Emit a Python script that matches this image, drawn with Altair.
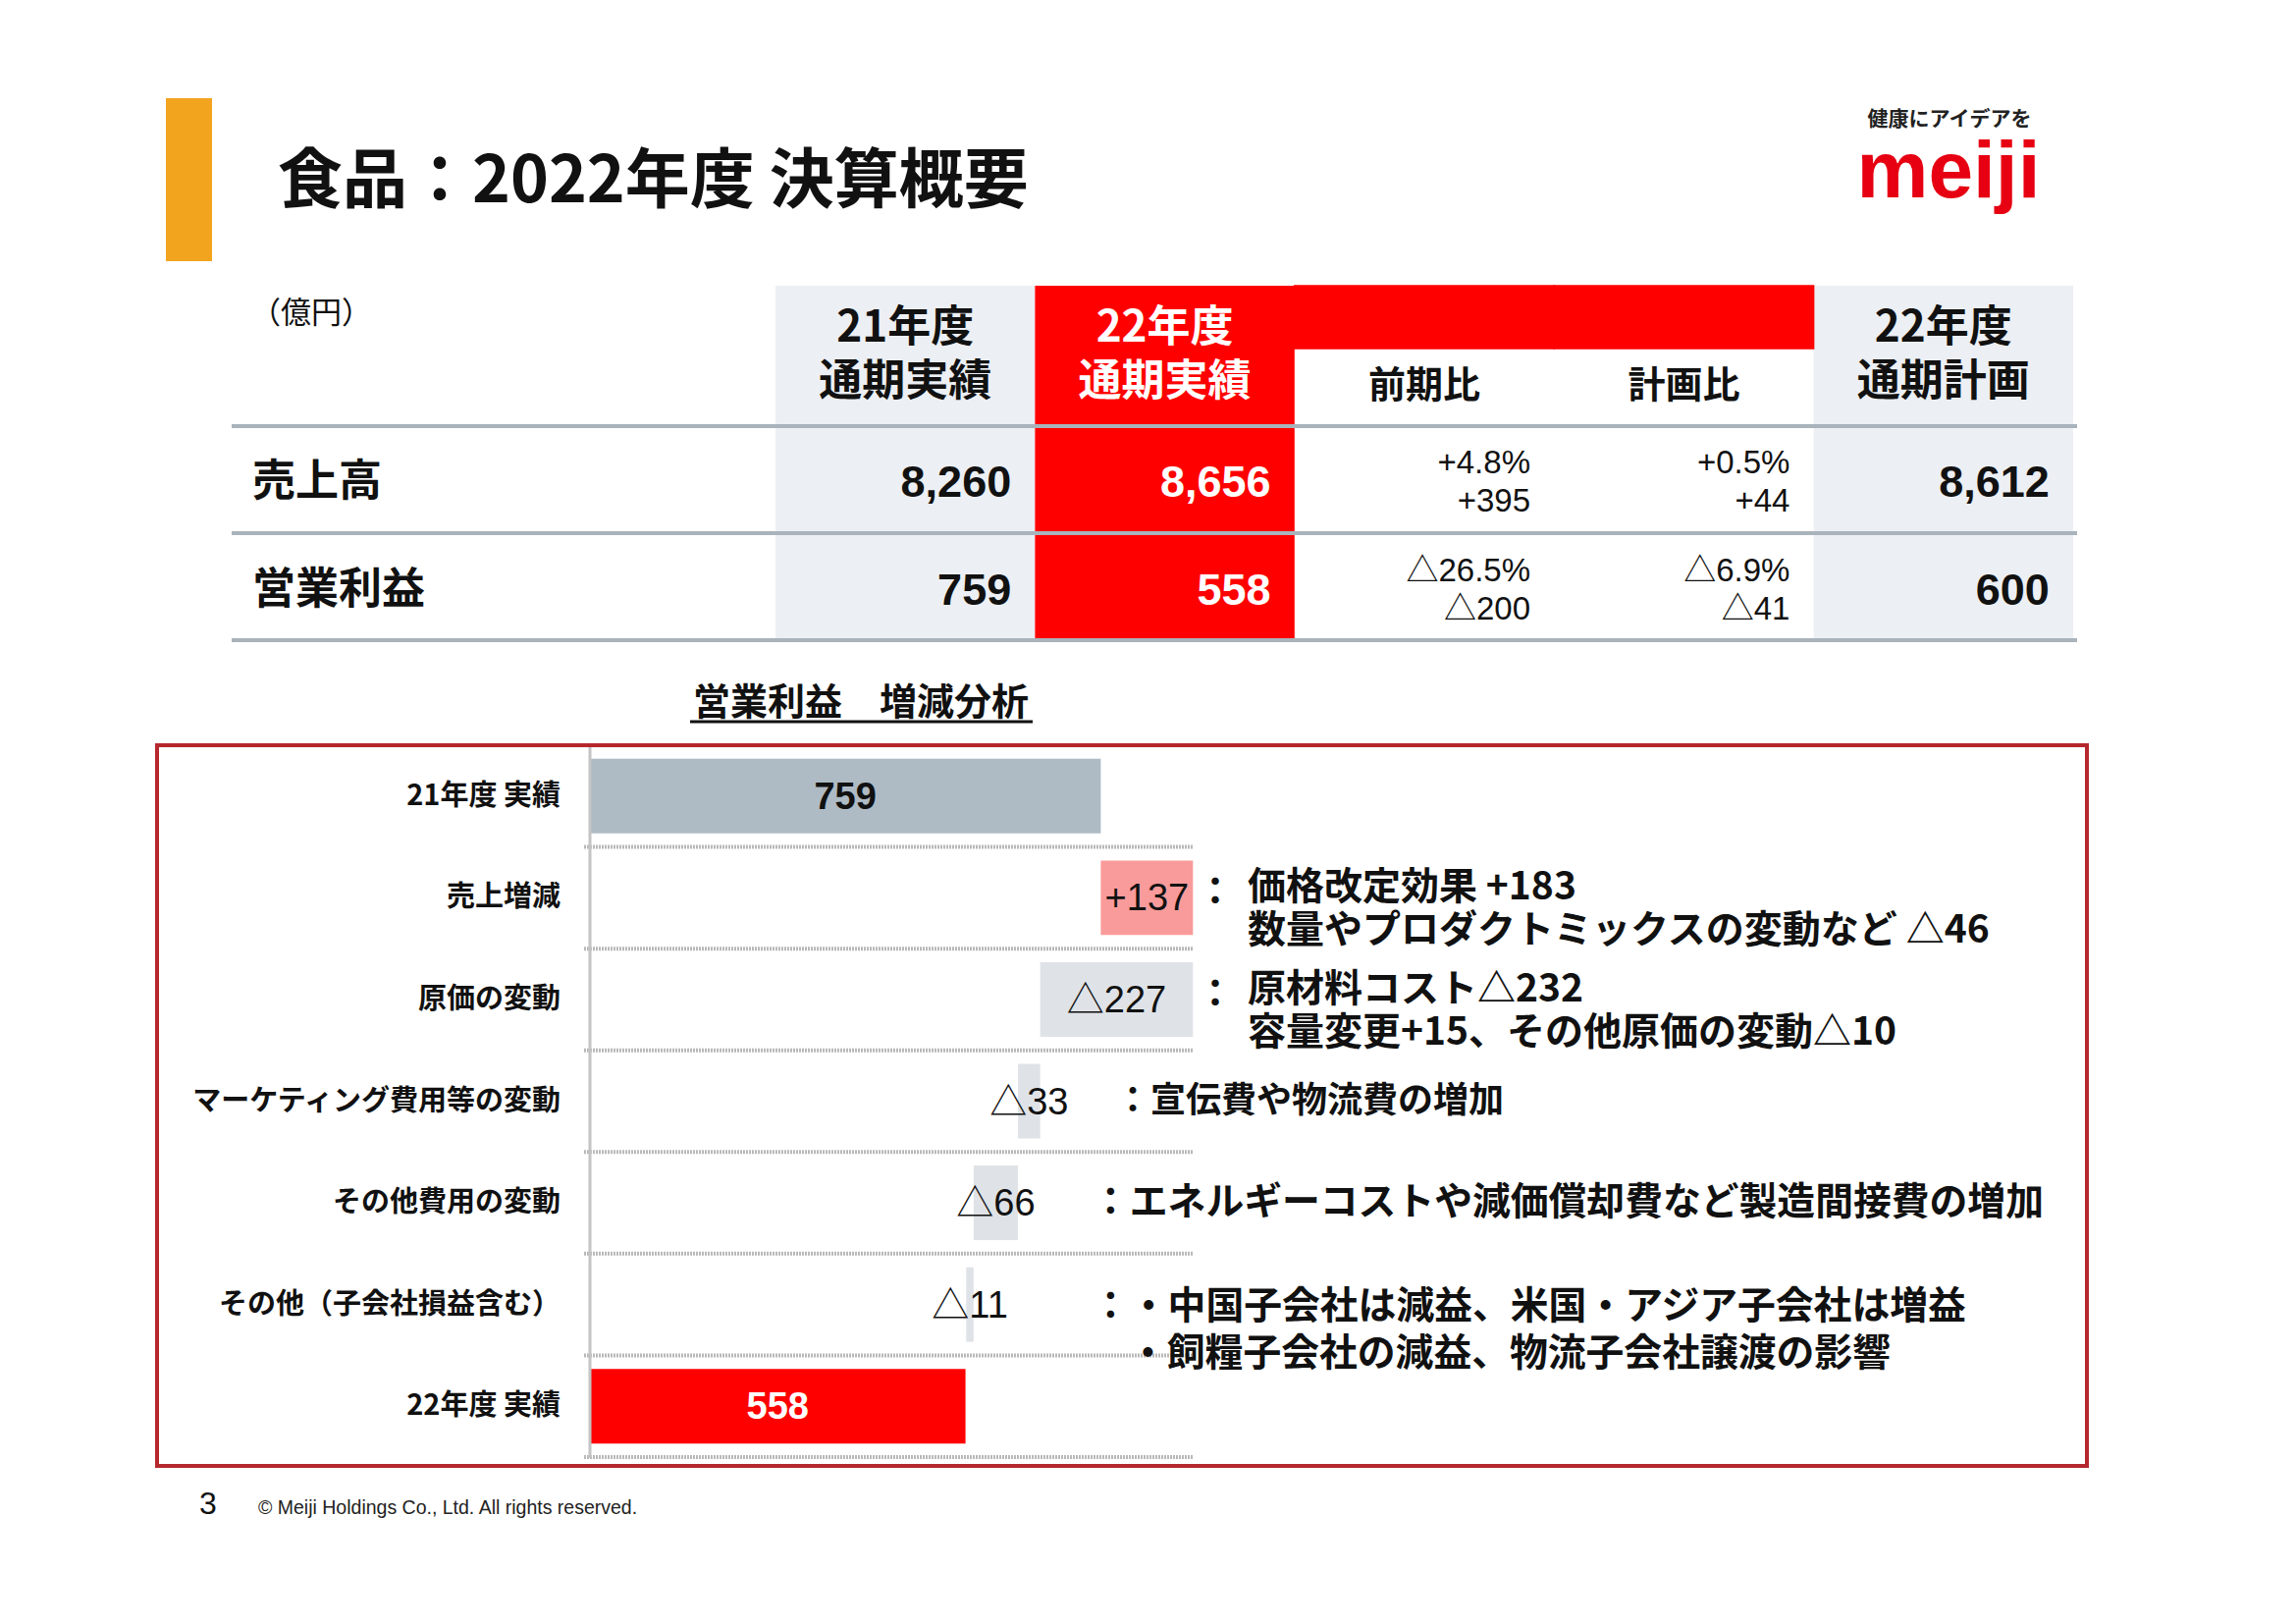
import altair as alt
import pandas as pd

# ---------------- data ----------------
page_title = "食品：2022年度 決算概要"
tagline = "健康にアイデアを"
brand = "meiji"
unit_label = "（億円）"

table_cols = ["21年度", "22年度", "前期比", "計画比", "計画"]
table_headers = ["21年度\n通期実績", "22年度\n通期実績", "前期比", "計画比", "22年度\n通期計画"]
table_rows = ["売上高", "営業利益"]
actual_21 = ["8,260", "759"]
actual_22 = ["8,656", "558"]
vs_prev = ["+4.8%\n+395", "△26.5%\n△200"]
vs_plan = ["+0.5%\n+44", "△6.9%\n△41"]
plan_22 = ["8,612", "600"]

wf_title = "営業利益　増減分析"
wf_categories = ["21年度 実績", "売上増減", "原価の変動", "マーケティング費用等の変動",
                 "その他費用の変動", "その他（子会社損益含む）", "22年度 実績"]
wf_values = [759, 137, -227, -33, -66, -11, 558]
wf_labels = ["759", "+137", "△227", "△33", "△66", "△11", "558"]
wf_kinds = ["前年実績", "増加", "減少", "減少", "減少", "減少", "当年実績"]

notes_two_line = ["価格改定効果 +183\n数量やプロダクトミックスの変動など △46",
                  "原材料コスト△232\n容量変更+15、その他原価の変動△10"]
note_marketing = "：宣伝費や物流費の増加"
note_other_cost = "：エネルギーコストや減価償却費など製造間接費の増加"
note_other_1 = "：・中国子会社は減益、米国・アジア子会社は増益"
note_other_2 = "・飼糧子会社の減益、物流子会社譲渡の影響"

footer_page = "3"
footer_copy = "© Meiji Holdings Co., Ltd. All rights reserved."

# ---------------- styling ----------------
W, H = 2323, 1638
JP = "Noto Sans CJK JP"
NUM = "Liberation Sans, Noto Sans CJK JP"
RED = "#ff0000"
GRAY_CELL = "#eceff3"


def one(text):
    return pd.DataFrame({"t": [text]})


def static_text(text, x, y, size, weight="bold", align="left", color="#111111",
                font=JP, baseline="middle"):
    return alt.Chart(one(text)).mark_text(
        font=font, fontSize=size, fontWeight=weight, align=align,
        baseline=baseline, color=color).encode(
        x=alt.value(x), y=alt.value(y), text="t:N")


layers = []

# header decoration
layers.append(alt.Chart(one("")).mark_rect(color="#f3a41f").encode(
    x=alt.value(161), x2=alt.value(208), y=alt.value(92), y2=alt.value(258)))
layers.append(static_text(page_title, 275, 178, 66))
layers.append(static_text(tagline, 1978, 114, 21, align="center", color="#222222"))
layers.append(static_text(brand, 1977, 193, 82, align="center", color="#e60012",
                          font="Liberation Sans", baseline="alphabetic"))
layers.append(static_text(unit_label, 247, 312, 31, weight="normal"))

# ---------------- table ----------------
col_scale = alt.Scale(domain=table_cols, range=[782, 2104], paddingInner=0, paddingOuter=0)
row_scale = alt.Scale(domain=table_rows, range=[484, 594], padding=0)
cell_color = alt.Scale(domain=["gray", "red"], range=[GRAY_CELL, RED])

bg = pd.DataFrame({"col": ["21年度", "22年度", "計画"], "kind": ["gray", "red", "gray"]})
layers.append(alt.Chart(bg).mark_rect().encode(
    x=alt.X("col:N", scale=col_scale, axis=None),
    y=alt.value(283), y2=alt.value(644),
    color=alt.Color("kind:N", scale=cell_color, legend=None)))
strip = pd.DataFrame({"col": ["前期比", "計画比"], "kind": ["red", "red"]})
layers.append(alt.Chart(strip).mark_rect(strokeWidth=1.5).encode(
    x=alt.X("col:N", scale=col_scale, axis=None),
    y=alt.value(283), y2=alt.value(347),
    color=alt.Color("kind:N", scale=cell_color, legend=None),
    stroke=alt.Stroke("kind:N", scale=cell_color, legend=None)))

for gy in (426, 535, 644):
    layers.append(alt.Chart(one("")).mark_rule(color="#a9b3bb", strokeWidth=4).encode(
        x=alt.value(228), x2=alt.value(2108), y=alt.value(gy)))

hdr = pd.DataFrame({"col": table_cols, "h": table_headers})
layers.append(alt.Chart(hdr).transform_filter(
    alt.FieldOneOfPredicate(field="col", oneOf=["21年度", "計画"])).mark_text(
    font=JP, fontSize=44, fontWeight="bold", color="#111111", lineBreak="\n",
    lineHeight=55, baseline="middle").encode(
    x=alt.X("col:N", scale=col_scale, axis=None), y=alt.value(327), text="h:N"))
layers.append(alt.Chart(hdr).transform_filter(
    alt.FieldEqualPredicate(field="col", equal="22年度")).mark_text(
    font=JP, fontSize=44, fontWeight="bold", color="#ffffff", lineBreak="\n",
    lineHeight=55, baseline="middle").encode(
    x=alt.X("col:N", scale=col_scale, axis=None), y=alt.value(327), text="h:N"))
layers.append(alt.Chart(hdr).transform_filter(
    alt.FieldOneOfPredicate(field="col", oneOf=["前期比", "計画比"])).mark_text(
    font=JP, fontSize=38, fontWeight="bold", color="#111111", baseline="middle").encode(
    x=alt.X("col:N", scale=col_scale, axis=None), y=alt.value(386), text="h:N"))

rows_df = pd.DataFrame({"row": table_rows})
layers.append(alt.Chart(rows_df).mark_text(
    font=JP, fontSize=44, fontWeight="bold", color="#111111", align="left",
    baseline="middle").encode(
    x=alt.value(249), y=alt.Y("row:N", scale=row_scale, axis=None), text="row:N"))

vals = pd.DataFrame({
    "row": table_rows * 5,
    "col": [c for c in table_cols for _ in table_rows],
    "v": actual_21 + actual_22 + vs_prev + vs_plan + plan_22,
})
layers.append(alt.Chart(vals).transform_filter(
    alt.FieldOneOfPredicate(field="col", oneOf=["21年度", "計画"])).mark_text(
    font=NUM, fontSize=45, fontWeight="bold", color="#111111", align="right",
    baseline="middle", dx=108).encode(
    x=alt.X("col:N", scale=col_scale, axis=None),
    y=alt.Y("row:N", scale=row_scale, axis=None), text="v:N"))
layers.append(alt.Chart(vals).transform_filter(
    alt.FieldEqualPredicate(field="col", equal="22年度")).mark_text(
    font=NUM, fontSize=45, fontWeight="bold", color="#ffffff", align="right",
    baseline="middle", dx=108).encode(
    x=alt.X("col:N", scale=col_scale, axis=None),
    y=alt.Y("row:N", scale=row_scale, axis=None), text="v:N"))
layers.append(alt.Chart(vals).transform_filter(
    alt.FieldOneOfPredicate(field="col", oneOf=["前期比", "計画比"])).mark_text(
    font=NUM, fontSize=33, fontWeight="normal", color="#111111", align="right",
    baseline="middle", dx=108, dy=-20, lineBreak="\n", lineHeight=39).encode(
    x=alt.X("col:N", scale=col_scale, axis=None),
    y=alt.Y("row:N", scale=row_scale, axis=None), text="v:N"))

# ---------------- waterfall ----------------
layers.append(static_text(wf_title, 869, 709, 38, align="center"))
layers.append(alt.Chart(one("")).mark_rule(color="#111111", strokeWidth=3).encode(
    x=alt.value(695), x2=alt.value(1044), y=alt.value(727)))

starts, ends = [], []
running = 0
for v, k in zip(wf_values, wf_kinds):
    if k in ("前年実績", "当年実績"):
        s, e = 0, v
        running = v
    else:
        s, e = running, running + v
        running += v
    starts.append(s)
    ends.append(e)
wf = pd.DataFrame({"cat": wf_categories, "start": starts, "end": ends,
                   "mid": [(s + e) / 2 for s, e in zip(starts, ends)],
                   "label": wf_labels, "kind": wf_kinds})

wf_x = alt.Scale(domain=[0, 897], range=[593, 1208], nice=False, zero=False)
wf_y = alt.Scale(domain=wf_categories, range=[751, 1476], paddingInner=0.267,
                 paddingOuter=0.1335)
kind_color = alt.Scale(domain=["前年実績", "増加", "減少", "当年実績"],
                       range=["#aebbc5", "#f99b9b", "#dfe3e7", RED])
step = 725 / (7 - 0.267 + 2 * 0.1335)

layers.append(alt.Chart(wf).mark_bar().encode(
    x=alt.X("start:Q", scale=wf_x, axis=None), x2="end:Q",
    y=alt.Y("cat:N", scale=wf_y, axis=None),
    color=alt.Color("kind:N", scale=kind_color, legend=None)))

layers.append(alt.Chart(wf).mark_rule(color="#b9b9b9", strokeWidth=4, strokeDash=[2, 1],
                                      yOffset=step / 2).encode(
    x=alt.value(587), x2=alt.value(1208),
    y=alt.Y("cat:N", scale=wf_y, axis=None)))
layers.append(alt.Chart(one("")).mark_rule(color="#c4c4c4", strokeWidth=3).encode(
    x=alt.value(593), y=alt.value(751), y2=alt.value(1477)))

layers.append(alt.Chart(wf).transform_filter(
    alt.FieldEqualPredicate(field="kind", equal="前年実績")).mark_text(
    font=NUM, fontSize=38, fontWeight="bold", color="#111111", baseline="middle", dy=2).encode(
    x=alt.X("mid:Q", scale=wf_x, axis=None), y=alt.Y("cat:N", scale=wf_y, axis=None),
    text="label:N"))
layers.append(alt.Chart(wf).transform_filter(
    alt.FieldEqualPredicate(field="kind", equal="当年実績")).mark_text(
    font=NUM, fontSize=38, fontWeight="bold", color="#ffffff", baseline="middle", dy=2).encode(
    x=alt.X("mid:Q", scale=wf_x, axis=None), y=alt.Y("cat:N", scale=wf_y, axis=None),
    text="label:N"))
layers.append(alt.Chart(wf).transform_filter(
    alt.FieldOneOfPredicate(field="kind", oneOf=["増加", "減少"])).mark_text(
    font=NUM, fontSize=38, fontWeight="normal", color="#111111", baseline="middle", dy=2).encode(
    x=alt.X("mid:Q", scale=wf_x, axis=None), y=alt.Y("cat:N", scale=wf_y, axis=None),
    text="label:N"))

layers.append(alt.Chart(wf).mark_text(
    font=JP, fontSize=29, fontWeight="bold", color="#111111", align="right",
    baseline="middle").encode(
    x=alt.value(563), y=alt.Y("cat:N", scale=wf_y, axis=None), text="cat:N"))

# notes beside the bars
notes2 = pd.DataFrame({"cat": wf_categories[1:3], "t": notes_two_line, "c": ["：", "："]})
layers.append(alt.Chart(notes2).mark_text(
    font=JP, fontSize=39, fontWeight="bold", color="#111111", align="left",
    baseline="middle", lineBreak="\n", lineHeight=44, dy=-10).encode(
    x=alt.value(1263), y=alt.Y("cat:N", scale=wf_y, axis=None), text="t:N"))
layers.append(alt.Chart(notes2).mark_text(
    font=JP, fontSize=39, fontWeight="bold", color="#111111", align="center",
    baseline="middle", dy=-5).encode(
    x=alt.value(1230), y=alt.Y("cat:N", scale=wf_y, axis=None), text="c:N"))

notes1 = pd.DataFrame({"cat": wf_categories[3:5], "t": [note_marketing, note_other_cost]})
layers.append(alt.Chart(notes1).transform_filter(
    alt.FieldEqualPredicate(field="cat", equal=wf_categories[3])).mark_text(
    font=JP, fontSize=36, fontWeight="bold", color="#111111", align="left",
    baseline="middle").encode(
    x=alt.value(1128), y=alt.Y("cat:N", scale=wf_y, axis=None), text="t:N"))
layers.append(alt.Chart(notes1).transform_filter(
    alt.FieldEqualPredicate(field="cat", equal=wf_categories[4])).mark_text(
    font=JP, fontSize=38.8, fontWeight="bold", color="#111111", align="left",
    baseline="middle").encode(
    x=alt.value(1104), y=alt.Y("cat:N", scale=wf_y, axis=None), text="t:N"))
notes3 = pd.DataFrame({"cat": [wf_categories[5]], "t1": [note_other_1], "t2": [note_other_2]})
layers.append(alt.Chart(notes3).mark_text(
    font=JP, fontSize=38.8, fontWeight="bold", color="#111111", align="left",
    baseline="middle", dy=2).encode(
    x=alt.value(1104), y=alt.Y("cat:N", scale=wf_y, axis=None), text="t1:N"))
layers.append(alt.Chart(notes3).mark_text(
    font=JP, fontSize=38.8, fontWeight="bold", color="#111111", align="left",
    baseline="middle", dy=50).encode(
    x=alt.value(1142), y=alt.Y("cat:N", scale=wf_y, axis=None), text="t2:N"))

# frame around the analysis
layers.append(alt.Chart(one("")).mark_rect(fillOpacity=0, stroke="#b5282d", strokeWidth=4).encode(
    x=alt.value(152), x2=alt.value(2118), y=alt.value(751), y2=alt.value(1485)))

# footer
layers.append(static_text(footer_page, 195, 1524, 32, weight="normal", font="Liberation Sans"))
layers.append(static_text(footer_copy, 255, 1528, 19.5, weight="normal", font="Liberation Sans",
                          color="#222222"))

chart = alt.layer(*layers).resolve_scale(
    x="independent", y="independent", color="independent", stroke="independent"
).properties(
    width=W, height=H, autosize=alt.AutoSizeParams(type="none"), padding=0,
    background="white"
).configure_view(stroke=None)

chart.save("out.html", embed_options={"renderer": "svg", "actions": False})
